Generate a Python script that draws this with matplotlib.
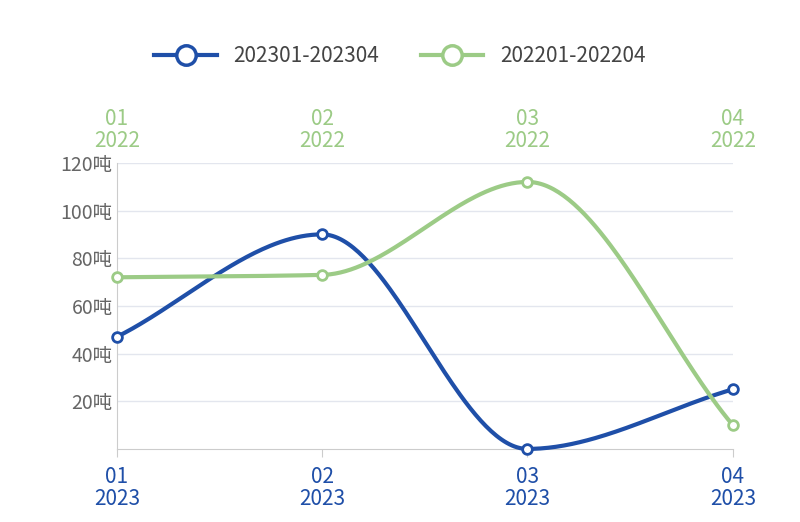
import numpy as np
import matplotlib.pyplot as plt

plt.rcParams['font.family'] = ['Noto Sans CJK SC', 'DejaVu Sans']

months = ['01', '02', '03', '04']
blue_vals = [47, 90, 0, 25]
green_vals = [72, 73, 112, 10]
blue_name = '202301-202304'
green_name = '202201-202204'
yticks = [20, 40, 60, 80, 100, 120]

BLUE = '#1f4fa8'
GREEN = '#9ccb86'


def smooth(x, y, n=80):
    # monotone cubic (Fritsch-Carlson) so the curve never overshoots
    x = np.asarray(x, float)
    y = np.asarray(y, float)
    h = np.diff(x)
    d = np.diff(y) / h
    m = np.zeros_like(y)
    m[0], m[-1] = d[0], d[-1]
    for i in range(1, len(y) - 1):
        if d[i - 1] * d[i] <= 0:
            m[i] = 0
        else:
            m[i] = 2 / (1 / d[i - 1] + 1 / d[i])
    xs, ys = [], []
    for i in range(len(x) - 1):
        s = np.linspace(0, 1, n)
        h00 = 2 * s**3 - 3 * s**2 + 1
        h10 = s**3 - 2 * s**2 + s
        h01 = -2 * s**3 + 3 * s**2
        h11 = s**3 - s**2
        xs.extend(x[i] + s * h[i])
        ys.extend(h00 * y[i] + h10 * h[i] * m[i] + h01 * y[i + 1] + h11 * h[i] * m[i + 1])
    return xs, ys


fig = plt.figure(figsize=(8, 5.22), dpi=100)
ax = fig.add_axes([0.146, 0.14, 0.77, 0.548])
x = np.arange(len(months))

for v, c, name in [(blue_vals, BLUE, blue_name), (green_vals, GREEN, green_name)]:
    sx, sy = smooth(x, v)
    ax.plot(sx, sy, color=c, lw=3, zorder=3, clip_on=False)
    ax.plot(x, v, 'o', color=c, mfc='white', mew=2, ms=7, zorder=4, clip_on=False)
    ax.plot([], [], '-o', color=c, mfc='white', mew=2.5, ms=14, lw=3, label=name)

ax.set_xlim(0, 3)
ax.set_ylim(0, 120)
ax.set_yticks(yticks)
ax.set_yticklabels([f'{t}吨' for t in yticks], color='#666666', fontsize=14)
ax.yaxis.grid(True, color='#e3e6ee', lw=1)
ax.set_axisbelow(True)
ax.tick_params(axis='y', length=0, pad=3)
for s in ['top', 'right']:
    ax.spines[s].set_visible(False)
ax.spines['left'].set_color('#cccccc')
ax.spines['bottom'].set_color('#cccccc')

ax.set_xticks(x)
ax.set_xticklabels([f'{m}\n2023' for m in months], color=BLUE, fontsize=15, linespacing=1.0)
ax.tick_params(axis='x', length=6, color='#cccccc', pad=6)

top = ax.secondary_xaxis('top')
top.set_xticks(x)
top.set_xticklabels([f'{m}\n2022' for m in months], color=GREEN, fontsize=15, linespacing=1.0)
top.tick_params(axis='x', length=0, pad=8)
top.spines['top'].set_visible(False)

fig.legend(loc='upper center', bbox_to_anchor=(0.5, 0.95), ncol=2, frameon=False,
           fontsize=15, handlelength=3, columnspacing=2, labelcolor='#444444')

fig.savefig('out.png', dpi=100)
